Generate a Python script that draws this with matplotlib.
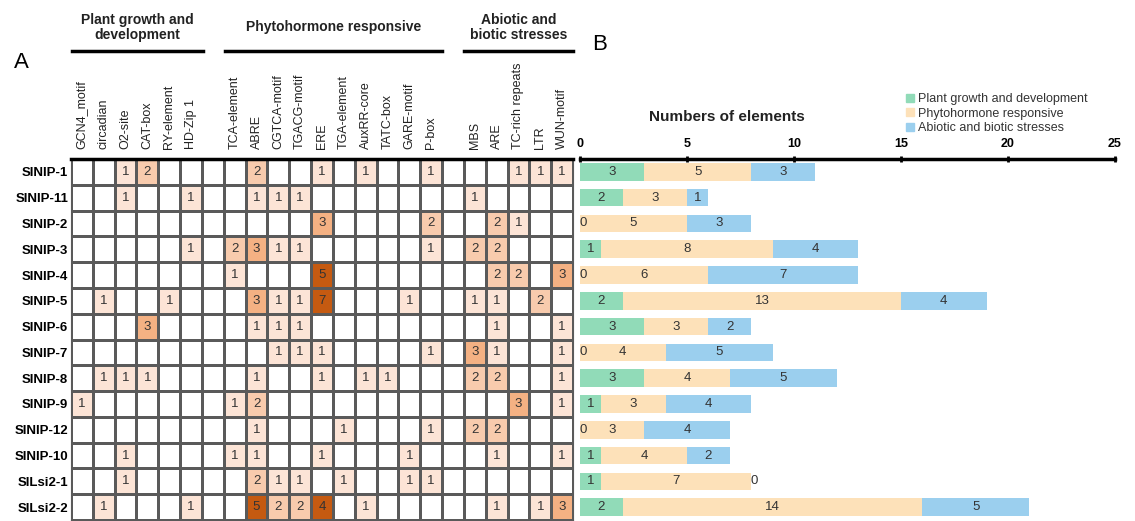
import numpy as np
import matplotlib
matplotlib.use("Agg")
import matplotlib.pyplot as plt
from matplotlib.colors import ListedColormap, BoundaryNorm
from matplotlib.patches import Patch
from matplotlib.lines import Line2D

plt.rcParams['font.family'] = ['Liberation Sans', 'DejaVu Sans']

genes = ['SINIP-1', 'SINIP-11', 'SINIP-2', 'SINIP-3', 'SINIP-4', 'SINIP-5', 'SINIP-6',
         'SINIP-7', 'SINIP-8', 'SINIP-9', 'SINIP-12', 'SINIP-10', 'SILsi2-1', 'SILsi2-2']

growth_elements = ['GCN4_motif', 'circadian', 'O2-site', 'CAT-box', 'RY-element', 'HD-Zip 1']
hormone_elements = ['TCA-element', 'ABRE', 'CGTCA-motif', 'TGACG-motif', 'ERE', 'TGA-element',
                    'AuxRR-core', 'TATC-box', 'GARE-motif', 'P-box']
stress_elements = ['MBS', 'ARE', 'TC-rich repeats', 'LTR', 'WUN-motif']

growth_counts = [
    [0, 0, 1, 2, 0, 0],
    [0, 0, 1, 0, 0, 1],
    [0, 0, 0, 0, 0, 0],
    [0, 0, 0, 0, 0, 1],
    [0, 0, 0, 0, 0, 0],
    [0, 1, 0, 0, 1, 0],
    [0, 0, 0, 3, 0, 0],
    [0, 0, 0, 0, 0, 0],
    [0, 1, 1, 1, 0, 0],
    [1, 0, 0, 0, 0, 0],
    [0, 0, 0, 0, 0, 0],
    [0, 0, 1, 0, 0, 0],
    [0, 0, 1, 0, 0, 0],
    [0, 1, 0, 0, 0, 1],
]
hormone_counts = [
    [0, 2, 0, 0, 1, 0, 1, 0, 0, 1],
    [0, 1, 1, 1, 0, 0, 0, 0, 0, 0],
    [0, 0, 0, 0, 3, 0, 0, 0, 0, 2],
    [2, 3, 1, 1, 0, 0, 0, 0, 0, 1],
    [1, 0, 0, 0, 5, 0, 0, 0, 0, 0],
    [0, 3, 1, 1, 7, 0, 0, 0, 1, 0],
    [0, 1, 1, 1, 0, 0, 0, 0, 0, 0],
    [0, 0, 1, 1, 1, 0, 0, 0, 0, 1],
    [0, 1, 0, 0, 1, 0, 1, 1, 0, 0],
    [1, 2, 0, 0, 0, 0, 0, 0, 0, 0],
    [0, 1, 0, 0, 0, 1, 0, 0, 0, 1],
    [1, 1, 0, 0, 1, 0, 0, 0, 1, 0],
    [0, 2, 1, 1, 0, 1, 0, 0, 1, 1],
    [0, 5, 2, 2, 4, 0, 1, 0, 0, 0],
]
stress_counts = [
    [0, 0, 1, 1, 1],
    [1, 0, 0, 0, 0],
    [0, 2, 1, 0, 0],
    [2, 2, 0, 0, 0],
    [0, 2, 2, 0, 3],
    [1, 1, 0, 2, 0],
    [0, 1, 0, 0, 1],
    [3, 1, 0, 0, 1],
    [2, 2, 0, 0, 1],
    [0, 0, 3, 0, 1],
    [2, 2, 0, 0, 0],
    [0, 1, 0, 0, 1],
    [0, 0, 0, 0, 0],
    [0, 1, 0, 1, 3],
]

plant_totals = [3, 2, 0, 1, 0, 2, 3, 0, 3, 1, 0, 1, 1, 2]
hormone_totals = [5, 3, 5, 8, 6, 13, 3, 4, 4, 3, 3, 4, 7, 14]
stress_totals = [3, 1, 3, 4, 7, 4, 2, 5, 5, 4, 4, 2, 0, 5]

W, H = 1135, 521
fig = plt.figure(figsize=(W / 100, H / 100), dpi=100)


def rect(x0, y0, x1, y1):
    return [x0 / W, 1 - y1 / H, (x1 - x0) / W, (y1 - y0) / H]


# heatmap matrix with a blank column between groups
gap = np.zeros((len(genes), 1))
mat = np.hstack([np.array(growth_counts), gap, np.array(hormone_counts), gap, np.array(stress_counts)])
col_labels = growth_elements + [''] + hormone_elements + [''] + stress_elements
nr, nc = mat.shape

cmap = ListedColormap(['white', '#fce4d6', '#f8cbad', '#f4b183', '#c55a11'])
norm = BoundaryNorm([-0.5, 0.5, 1.5, 2.5, 3.5, 100], cmap.N)

ax = fig.add_axes(rect(71, 159, 573, 520))
ax.pcolormesh(mat, cmap=cmap, norm=norm, edgecolors='#5a5a5a', linewidth=0.8)
ax.set_xlim(0, nc)
ax.set_ylim(nr, 0)
for i in range(nr):
    for j in range(nc):
        if mat[i, j] > 0:
            ax.text(j + 0.5, i + 0.5, str(int(mat[i, j])), ha='center', va='center',
                    fontsize=9.5, color='#333333')
ax.xaxis.tick_top()
ax.set_xticks(np.arange(nc) + 0.5)
ax.set_xticklabels(col_labels, rotation=90, fontsize=9, color='#222222')
ax.set_yticks(np.arange(nr) + 0.5)
ax.set_yticklabels(genes, fontsize=9.5, fontweight='bold')
ax.tick_params(length=0)
ax.tick_params(axis='x', pad=7)
ax.tick_params(axis='y', pad=2)
for s in ['left', 'right', 'bottom']:
    ax.spines[s].set_color('#5a5a5a')
    ax.spines[s].set_linewidth(0.8)
ax.spines['top'].set_linewidth(2.5)
ax.spines['top'].set_color('black')

# group headers
groups = [('Plant growth and\ndevelopment', 72, 203),
          ('Phytohormone responsive', 225, 442),
          ('Abiotic and\nbiotic stresses', 464, 573)]
for name, x0, x1 in groups:
    fig.add_artist(Line2D([x0 / W, x1 / W], [1 - 51 / H, 1 - 51 / H], color='black', lw=2.5))
    fig.text((x0 + x1) / 2 / W, 1 - 27.5 / H, name, ha='center', va='center',
             fontsize=10, fontweight='bold', linespacing=1.15, color='#222222')

fig.text(14 / W, 1 - 63 / H, 'A', fontsize=16, va='center', ha='left')
fig.text(592 / W, 1 - 45 / H, 'B', fontsize=16, va='center', ha='left')

# stacked bars
bx = fig.add_axes(rect(580, 159, 1115, 520))
y = np.arange(len(genes)) + 0.5
green, peach, blue = '#91dbb8', '#fde1b9', '#9bcfee'
left = np.zeros(len(genes))
for vals, c in [(plant_totals, green), (hormone_totals, peach), (stress_totals, blue)]:
    vals = np.array(vals)
    bx.barh(y, vals, left=left, height=0.68, color=c)
    for yi, l, v in zip(y, left, vals):
        if v > 0:
            bx.text(l + v / 2, yi, str(v), ha='center', va='center', fontsize=9.5, color='#333333')
        else:
            bx.text(l + 0.15, yi, '0', ha='center', va='center', fontsize=9.5, color='#333333')
    left = left + vals

bx.set_xlim(0, 25)
bx.set_ylim(len(genes), 0)
bx.xaxis.tick_top()
bx.set_xticks([0, 5, 10, 15, 20, 25])
bx.set_xticklabels(['0', '5', '10', '15', '20', '25'], fontsize=9, fontweight='bold')
bx.tick_params(axis='x', direction='inout', length=5, width=2, pad=4)
bx.set_yticks([])
for s in ['left', 'right', 'bottom']:
    bx.spines[s].set_visible(False)
bx.spines['top'].set_linewidth(2.5)
bx.patch.set_alpha(0)

fig.text(727 / W, 1 - 117 / H, 'Numbers of elements', ha='center', va='center',
         fontsize=11, fontweight='bold', color='#222222')

handles = [Patch(color=green), Patch(color=peach), Patch(color=blue)]
fig.legend(handles, ['Plant growth and development', 'Phytohormone responsive',
                     'Abiotic and biotic stresses'],
           loc='upper left', bbox_to_anchor=(906 / W, 1 - 93 / H), frameon=False,
           fontsize=9, handlelength=0.6, handleheight=0.6, handletextpad=0.4,
           labelspacing=0.2, borderpad=0, borderaxespad=0, labelcolor='#333333')

fig.savefig('out.png', dpi=100)
